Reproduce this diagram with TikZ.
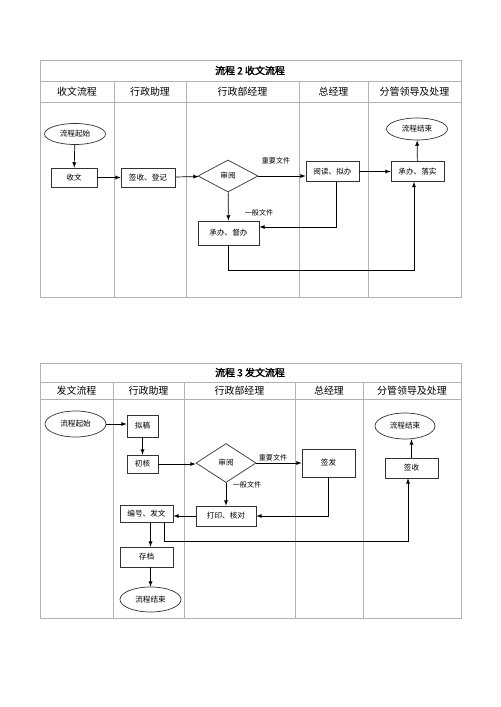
\documentclass[tikz,border=0pt]{standalone}
\usepackage{fontspec}
\newfontfamily\cjk{Noto Sans CJK SC}
\newfontfamily\cjkb[FakeBold=2]{Noto Sans CJK SC}
\usetikzlibrary{arrows,shapes,shapes.geometric,positioning}

\begin{document}
\begin{tikzpicture}[x=0.03cm,y=-0.03cm]
		\tikzset{grid/.style={draw=black!30, line width=0.6pt}}
		\tikzset{box/.style={rectangle, draw=black!80, line width=0.6pt, inner sep=0, font=\cjk\fontsize{6.5}{7}\selectfont}}
		\tikzset{oval/.style={box, ellipse}}
		\tikzset{check/.style={box, diamond}}
		\tikzset{lane/.style={font=\cjk\fontsize{8.5}{9}\selectfont}}
		\tikzset{head/.style={font=\cjkb\fontsize{8.5}{9}\selectfont}}
		\tikzset{lbl/.style={font=\cjk\fontsize{6}{7}\selectfont}}
		\tikzset{ar/.style={-latex, draw=black, line width=0.6pt}}
		\useasboundingbox (0,0) rectangle (500,707);
		% table 2
		\draw[grid] (40,60) rectangle (461,297);
		\draw[grid] (40,81) -- (461,81);
		\draw[grid] (40,102) -- (461,102);
		\foreach \x in {114,186,299,368} \draw[grid] (\x,81) -- (\x,297);
		\node[head] (t1) at (250,70.5) {流程 2 收文流程};
		\node[lane] (h11) at (77,91.5) {收文流程};
		\node[lane] (h12) at (150,91.5) {行政助理};
		\node[lane] (h13) at (242.5,91.5) {行政部经理};
		\node[lane] (h14) at (333.5,91.5) {总经理};
		\node[lane] (h15) at (414.5,91.5) {分管领导及处理};
		\node[oval, minimum width=1.83cm, minimum height=0.63cm] at (75,134) (s1) {流程起始};
		\node[box, minimum width=1.38cm, minimum height=0.57cm] at (74,177.5) (sw) {收文};
		\node[box, minimum width=1.62cm, minimum height=0.57cm] at (148,177.5) (qd) {签收、登记};
		\node[check, minimum width=1.8cm, minimum height=0.96cm] at (228,176) (sy) {审阅};
		\node[box, minimum width=1.59cm, minimum height=0.6cm] at (332.5,171.5) (yd) {阅读、拟办};
		\node[box, minimum width=1.59cm, minimum height=0.6cm] at (417.5,171.5) (cl) {承办、落实};
		\node[oval, minimum width=1.83cm, minimum height=0.66cm] at (417,129) (e1) {流程结束};
		\node[box, minimum width=1.83cm, minimum height=0.72cm] at (228.5,233) (cd) {承办、督办};
		\node[lbl] at (276,161) (l1) {重要文件};
		\node[lbl] at (259,213) (l2) {一般文件};
		\coordinate (c1) at (414,270);
		\draw[ar] (s1) -- (sw);
		\draw[ar] (sw) -- (qd);
		\draw[ar] (qd) -- (sy);
		\draw[ar] (sy.east) -- (sy.east -| yd.west);
		\draw[ar] (yd) -- (cl);
		\draw[ar] (cl) -- (e1);
		\draw[ar] (sy) -- (cd);
		\draw[ar] ([xshift=0.12cm]yd.south) |- (cd.east |- 0,227);
		\draw[ar] (cd.south) |- (c1) -- (c1 |- cl.south);
		% table 3
		\draw[grid] (40,363) rectangle (461,618);
		\draw[grid] (40,382) -- (461,382);
		\draw[grid] (40,399) -- (461,399);
		\foreach \x in {113,184,295,363} \draw[grid] (\x,382) -- (\x,618);
		\node[head] (t2) at (250,372.5) {流程 3 发文流程};
		\node[lane] (h21) at (76.5,390.5) {发文流程};
		\node[lane] (h22) at (148.5,390.5) {行政助理};
		\node[lane] (h23) at (239.5,390.5) {行政部经理};
		\node[lane] (h24) at (329,390.5) {总经理};
		\node[lane] (h25) at (412,390.5) {分管领导及处理};
		\node[oval, minimum width=1.83cm, minimum height=0.78cm] at (75.5,424) (s2) {流程起始};
		\node[box, minimum width=0.93cm, minimum height=0.66cm] at (142.5,426) (ng) {拟稿};
		\node[box, minimum width=0.93cm, minimum height=0.54cm] at (142.5,464) (ch) {初核};
		\node[check, minimum width=1.8cm, minimum height=1.17cm] at (226,463) (sy2) {审阅};
		\node[box, minimum width=1.59cm, minimum height=0.84cm] at (328.5,463) (qf) {签发};
		\node[box, minimum width=1.59cm, minimum height=0.6cm] at (411.5,468) (qs) {签收};
		\node[oval, minimum width=1.8cm, minimum height=0.78cm] at (405,426) (e2) {流程结束};
		\node[box, minimum width=1.8cm, minimum height=0.6cm] at (226,516) (pd) {打印、核对};
		\node[box, minimum width=1.59cm, minimum height=0.51cm] at (146.5,513.5) (bh) {编号、发文};
		\node[box, minimum width=1.59cm, minimum height=0.6cm] at (146.5,557) (cd2) {存档};
		\node[oval, minimum width=1.83cm, minimum height=0.75cm] at (150.5,599.5) (e3) {流程结束};
		\node[lbl] at (273,458) (l3) {重要文件};
		\node[lbl] at (247,485) (l4) {一般文件};
		\coordinate (c2) at (408,541);
		\draw[ar] (s2.east) -- (s2.east -| ng.west);
		\draw[ar] (ng) -- (ch);
		\draw[ar] (ch.east) -- (ch.east -| sy2.west);
		\draw[ar] (sy2) -- (qf);
		\draw[ar] (qf.south) |- (pd.east);
		\draw[ar] (sy2) -- (pd);
		\draw[ar] (pd.west) -- (pd.west -| bh.east);
		\draw[ar] (bh.south -| e3) -- (cd2.north -| e3);
		\draw[ar] (cd2.south -| e3) -- (e3);
		\draw[ar] ([xshift=0.55cm]bh.south) |- (c2) -- (c2 |- qs.south);
		\draw[ar] (qs.north) -- (qs.north |- e2.south);
	\end{tikzpicture}
\end{document}
